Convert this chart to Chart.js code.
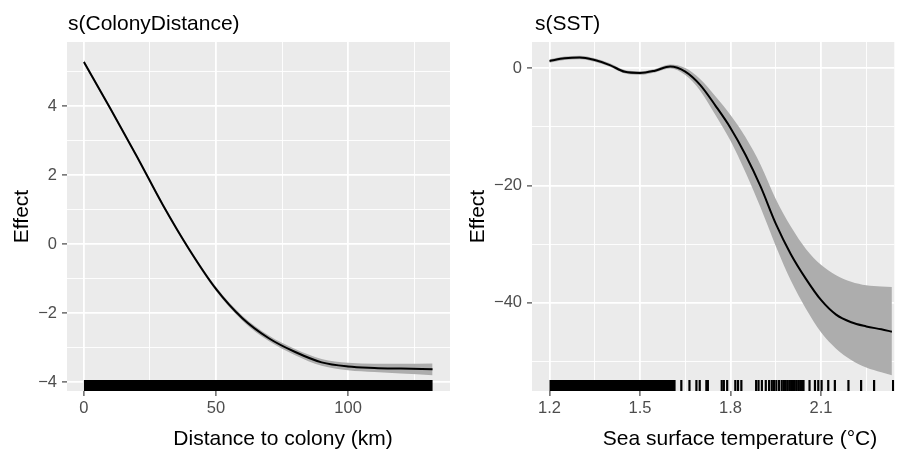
<!DOCTYPE html>
<html>
<head>
<meta charset="utf-8">
<script src="https://cdn.jsdelivr.net/npm/chart.js@4"></script>
<style>
html, body { margin: 0; padding: 0; background: #fff; }
#wrap { position: relative; width: 902px; height: 449px; }
#wrap canvas { position: absolute; top: 0; }
</style>
</head>
<body>
<div id="wrap">
  <canvas id="left" width="451" height="449" style="left:0"></canvas>
  <canvas id="right" width="451" height="449" style="left:451px"></canvas>
</div>
<script>
// s(ColonyDistance)
const distX     = [0, 10, 20, 30, 40, 50, 60, 70, 80, 90, 100, 110, 120, 132];
const distFit   = [5.28, 3.93, 2.55, 1.12, -0.17, -1.30, -2.15, -2.73, -3.13, -3.43, -3.55, -3.59, -3.61, -3.63];
const distUpper = [5.34, 3.98, 2.60, 1.17, -0.12, -1.24, -2.08, -2.65, -3.04, -3.33, -3.44, -3.47, -3.47, -3.46];
const distLower = [5.22, 3.88, 2.50, 1.07, -0.22, -1.36, -2.22, -2.81, -3.22, -3.53, -3.66, -3.71, -3.75, -3.80];
const distRugSpan = [0, 132];

// s(SST)
const sstX     = [1.2, 1.25, 1.3, 1.35, 1.4, 1.45, 1.5, 1.55, 1.6, 1.65, 1.7, 1.75, 1.8, 1.85, 1.9, 1.95, 2.0, 2.05, 2.1, 2.15, 2.2, 2.25, 2.3, 2.335];
const sstFit   = [1.2, 1.65, 1.8, 1.35, 0.5, -0.65, -0.85, -0.45, 0.25, -0.6, -2.9, -6.4, -10.2, -14.8, -20.2, -26.5, -31.7, -35.9, -39.5, -42.0, -43.3, -44.0, -44.5, -44.9];
const sstUpper = [1.5, 1.95, 2.1, 1.65, 0.8, -0.35, -0.55, -0.15, 0.6, 0.0, -1.9, -4.8, -8.0, -11.8, -16.5, -22.3, -27.0, -30.8, -33.5, -35.3, -36.4, -37.0, -37.2, -37.3];
const sstLower = [0.9, 1.35, 1.5, 1.05, 0.2, -0.95, -1.15, -0.75, -0.1, -1.2, -3.9, -8.0, -12.4, -17.8, -23.8, -30.3, -36.2, -41.0, -45.0, -47.8, -49.7, -51.0, -51.8, -52.3];
const sstRugSpan = [1.2, 1.618];
const sstRugTicks = [1.637, 1.664, 1.687, 1.698, 1.72, 1.725, 1.771, 1.778, 1.789, 1.816, 1.825, 1.836,
  1.885, 1.893, 1.904, 1.917, 1.928, 1.937, 1.944, 1.952, 1.961, 1.97, 1.977,
  1.983, 1.989, 1.995, 2.001, 2.007, 2.013, 2.019, 2.025, 2.031, 2.037, 2.042,
  2.062, 2.08, 2.091, 2.102, 2.124, 2.146, 2.191, 2.233, 2.276, 2.339];

const FONT = '"Liberation Sans", Arial, Helvetica, sans-serif';
const minus = v => v < 0 ? '\u2212' + Math.abs(v) : String(v);
const pts = (xs, ys) => xs.map((x, i) => ({ x: x, y: ys[i] }));

const panelDecor = {
  id: 'panelDecor',
  beforeDraw(chart) {
    const { ctx, chartArea: a } = chart;
    ctx.save();
    ctx.fillStyle = '#EBEBEB';
    ctx.fillRect(a.left, a.top, a.right - a.left, a.bottom - a.top);
    ctx.restore();
  },
  afterDraw(chart, args, opts) {
    const { ctx, chartArea: a } = chart;
    ctx.save();
    ctx.fillStyle = '#000';
    ctx.font = '21px ' + FONT;
    ctx.textBaseline = 'alphabetic';
    ctx.textAlign = 'left';
    ctx.fillText(opts.title, a.left + opts.titleDx, 30);
    ctx.textAlign = 'center';
    ctx.fillText(opts.xTitle, opts.xTitleX, 445);
    ctx.restore();
  }
};

function grid(isMajor) {
  return {
    color: '#FFFFFF',
    lineWidth: c => (c.tick && isMajor(c.tick.value)) ? 1.8 : 0.9,
    tickLength: 5,
    tickWidth: 1.1,
    tickColor: c => (c.tick && isMajor(c.tick.value)) ? '#333333' : 'rgba(0,0,0,0)'
  };
}

function makePanel(id, p) {
  const rugY = p.yMin + (p.yMax - p.yMin) * 0.0158;
  // lower order is drawn on top
  const datasets = [
    { data: pts(p.x, p.upper), order: 3, borderWidth: 0, pointRadius: 0, fill: false, cubicInterpolationMode: 'monotone' },
    { data: pts(p.x, p.lower), order: 3, borderWidth: 0, pointRadius: 0, fill: '-1', backgroundColor: '#ADADAD', cubicInterpolationMode: 'monotone' },
    { data: pts(p.x, p.fit), order: 1, borderColor: '#000', borderWidth: 2, pointRadius: 0, fill: false, cubicInterpolationMode: 'monotone' },
    { data: p.rugSpan.map(x => ({ x: x, y: rugY })), order: 0, borderColor: '#000', borderWidth: 11, borderCapStyle: 'butt', pointRadius: 0, fill: false }
  ];
  if (p.rugTicks) {
    datasets.push({
      data: p.rugTicks.map(x => ({ x: x, y: rugY })), order: 0,
      showLine: false, pointStyle: 'line', pointRotation: 90, pointRadius: 5.5,
      pointBorderWidth: 2.2, pointBorderColor: '#000', pointBackgroundColor: '#000'
    });
  }
  return new Chart(document.getElementById(id), {
    type: 'line',
    data: { datasets: datasets },
    plugins: [panelDecor],
    options: {
      responsive: false,
      animation: false,
      layout: { padding: { top: 42, right: p.padRight, bottom: 0, left: 0 } },
      plugins: {
        legend: { display: false },
        tooltip: { enabled: false },
        panelDecor: { title: p.title, titleDx: p.titleDx, xTitle: p.xTitle, xTitleX: p.xTitleX }
      },
      scales: {
        x: {
          type: 'linear', min: p.xMin, max: p.xMax,
          afterFit: s => { s.height = 58; },
          border: { display: false },
          grid: grid(p.xMajor),
          ticks: {
            stepSize: p.xStep, includeBounds: false, autoSkip: false, maxRotation: 0, padding: 3,
            color: '#4D4D4D', font: { family: FONT, size: 16.5 },
            callback: v => p.xMajor(v) ? p.xFmt(v) : ''
          }
        },
        y: {
          type: 'linear', min: p.yMin, max: p.yMax,
          afterFit: s => { s.width = p.yWidth; },
          border: { display: false },
          grid: grid(p.yMajor),
          ticks: {
            stepSize: p.yStep, includeBounds: false, autoSkip: false, padding: 5,
            color: '#4D4D4D', font: { family: FONT, size: 16.5 },
            callback: v => p.yMajor(v) ? minus(v) : ''
          },
          title: {
            display: true, text: 'Effect', color: '#000',
            font: { family: FONT, size: 21, lineHeight: 1.2 },
            padding: { top: p.yTitlePad, bottom: 0 }
          }
        }
      }
    }
  });
}

makePanel('left', {
  title: 's(ColonyDistance)', titleDx: 1, xTitle: 'Distance to colony (km)', xTitleX: 283,
  x: distX, fit: distFit, upper: distUpper, lower: distLower, rugSpan: distRugSpan,
  xMin: -6.4, xMax: 138.6, xStep: 25, xMajor: v => v % 50 === 0, xFmt: v => String(v),
  yMin: -4.26, yMax: 5.86, yStep: 1, yMajor: v => v % 2 === 0,
  yWidth: 67, yTitlePad: 9.4, padRight: 1
});

makePanel('right', {
  title: 's(SST)', titleDx: 3, xTitle: 'Sea surface temperature (\u00B0C)', xTitleX: 289,
  x: sstX, fit: sstFit, upper: sstUpper, lower: sstLower, rugSpan: sstRugSpan, rugTicks: sstRugTicks,
  xMin: 1.142, xMax: 2.343, xStep: 0.15, xMajor: v => Math.round(v / 0.15) % 2 === 0, xFmt: v => v.toFixed(1),
  yMin: -55, yMax: 4.43, yStep: 10, yMajor: v => v % 20 === 0,
  yWidth: 81, yTitlePad: 15.1, padRight: 2
});
</script>
</body>
</html>
